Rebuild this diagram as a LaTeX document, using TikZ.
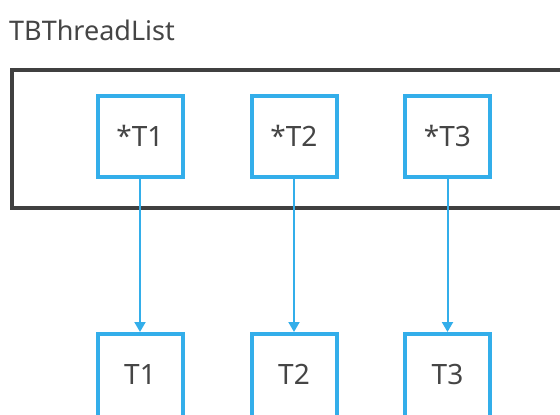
\documentclass[tikz,border=0pt]{standalone}
\usepackage{fontspec}
\setmainfont{Noto Sans}
\usetikzlibrary{arrows.meta}
\definecolor{tbblue}{HTML}{33AEEA}
\definecolor{tbgray}{HTML}{404040}
\definecolor{tbtext}{HTML}{454545}
\tikzset{
  ptr/.style={draw=tbblue, line width=4pt, minimum width=85pt, minimum height=81pt, inner sep=0pt, text=tbtext, font=\fontsize{28}{32}\selectfont},
  lbl/.style={anchor=base, inner sep=0pt, text=tbtext, font=\fontsize{28}{32}\selectfont},
  link/.style={draw=tbblue, line width=2pt, -{Triangle[length=10pt,width=11pt]}},
}
\begin{document}
\begin{tikzpicture}[x=1pt,y=-1pt]
\useasboundingbox (0,0) rectangle (560,415);
\clip (0,0) rectangle (560,415);
\node[anchor=base west, inner sep=0pt, text=tbtext, font=\fontsize{27}{30}\selectfont] (title) at (9,40) {TBThreadList};
\node[draw=tbgray, line width=4pt, minimum width=575pt, minimum height=138pt, inner sep=0pt, anchor=north west] (list) at (10,68) {};
\node[ptr] (p1) at (140,136) {*T1};
\node[ptr] (p2) at (294,136) {*T2};
\node[ptr] (p3) at (447.5,136) {*T3};
\node[ptr, minimum height=100pt, anchor=north] (t1) at (140,332) {};
\node[ptr, minimum height=100pt, anchor=north] (t2) at (294,332) {};
\node[ptr, minimum height=100pt, anchor=north] (t3) at (447.5,332) {};
\node[lbl] (l1) at (140,384) {T1};
\node[lbl] (l2) at (294,384) {T2};
\node[lbl] (l3) at (447.5,384) {T3};
\draw[link] (p1.south) -- (t1.north);
\draw[link] (p2.south) -- (t2.north);
\draw[link] (p3.south) -- (t3.north);
\end{tikzpicture}
\end{document}
